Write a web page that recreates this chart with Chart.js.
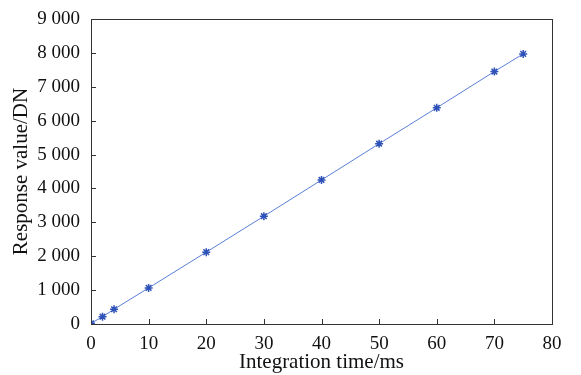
<!DOCTYPE html>
<html>
<head>
<meta charset="utf-8">
<script src="https://cdn.jsdelivr.net/npm/chart.js@4.4.0/dist/chart.umd.min.js"></script>
<style>
  html, body { margin: 0; padding: 0; background: #fff; }
  #wrap { width: 581px; height: 375px; }
</style>
</head>
<body>
<div id="wrap"><canvas id="c" width="581" height="375"></canvas></div>
<script>
// integration time (ms) vs response (DN)
const integrationTime = [0, 2, 4, 10, 20, 30, 40, 50, 60, 70, 75];
const responseValue = [20, 215, 435, 1065, 2120, 3180, 4250, 5320, 6380, 7450, 7970];
const xTicks = [0, 10, 20, 30, 40, 50, 60, 70, 80];
const yTicks = [0, 1000, 2000, 3000, 4000, 5000, 6000, 7000, 8000, 9000];

const serif = '"Liberation Serif", "Times New Roman", serif';

function fmt(v) {
  return String(v).replace(/\B(?=(\d{3})+(?!\d))/g, ' ');
}

// box + inward ticks, matlab style
const frame = {
  id: 'frame',
  afterDraw(chart) {
    const { ctx, chartArea: a, scales } = chart;
    ctx.save();
    ctx.strokeStyle = '#333';
    ctx.lineWidth = 1;
    ctx.strokeRect(a.left + 0.5, a.top + 0.5, a.right - a.left, a.bottom - a.top);
    ctx.beginPath();
    xTicks.forEach(t => {
      const px = Math.round(scales.x.getPixelForValue(t)) + 0.5;
      ctx.moveTo(px, a.bottom);
      ctx.lineTo(px, a.bottom - 5);
    });
    yTicks.forEach(t => {
      const py = Math.round(scales.y.getPixelForValue(t)) + 0.5;
      ctx.moveTo(a.left, py);
      ctx.lineTo(a.left + 5, py);
    });
    ctx.stroke();
    ctx.restore();
  }
};

new Chart(document.getElementById('c'), {
  type: 'scatter',
  data: {
    datasets: [{
      data: integrationTime.map((x, i) => ({ x: x, y: responseValue[i] })),
      showLine: true,
      borderColor: '#5b7fd6',
      borderWidth: 1,
      pointStyle: 'star',
      pointRadius: 4,
      pointBorderWidth: 1.5,
      pointBorderColor: '#2f52b8',
      pointBackgroundColor: '#2f52b8'
    }]
  },
  options: {
    responsive: false,
    animation: false,
    layout: { padding: { top: 19, right: 29, left: 0, bottom: 0 } },
    plugins: { legend: { display: false }, tooltip: { enabled: false } },
    scales: {
      x: {
        type: 'linear',
        min: 0, max: 80,
        afterBuildTicks: s => { s.ticks = xTicks.map(v => ({ value: v })); },
        afterFit: s => { s.height = 51; },
        grid: { display: false },
        border: { display: false },
        ticks: {
          color: '#111',
          font: { family: serif, size: 19 },
          padding: 1,
          maxRotation: 0
        },
        title: {
          display: true,
          text: 'Integration time/ms',
          color: '#111',
          font: { family: serif, size: 21 },
          padding: { top: -4, bottom: 0 }
        }
      },
      y: {
        min: 0, max: 9000,
        afterBuildTicks: s => { s.ticks = yTicks.map(v => ({ value: v })); },
        afterFit: s => { s.width = 91; },
        grid: { display: false },
        border: { display: false },
        ticks: {
          color: '#111',
          font: { family: serif, size: 19 },
          padding: 3,
          callback: v => fmt(v)
        },
        title: {
          display: true,
          text: 'Response value/DN',
          color: '#111',
          font: { family: serif, size: 21 },
          padding: { top: 9, bottom: 0 }
        }
      }
    }
  },
  plugins: [frame]
});
</script>
</body>
</html>
